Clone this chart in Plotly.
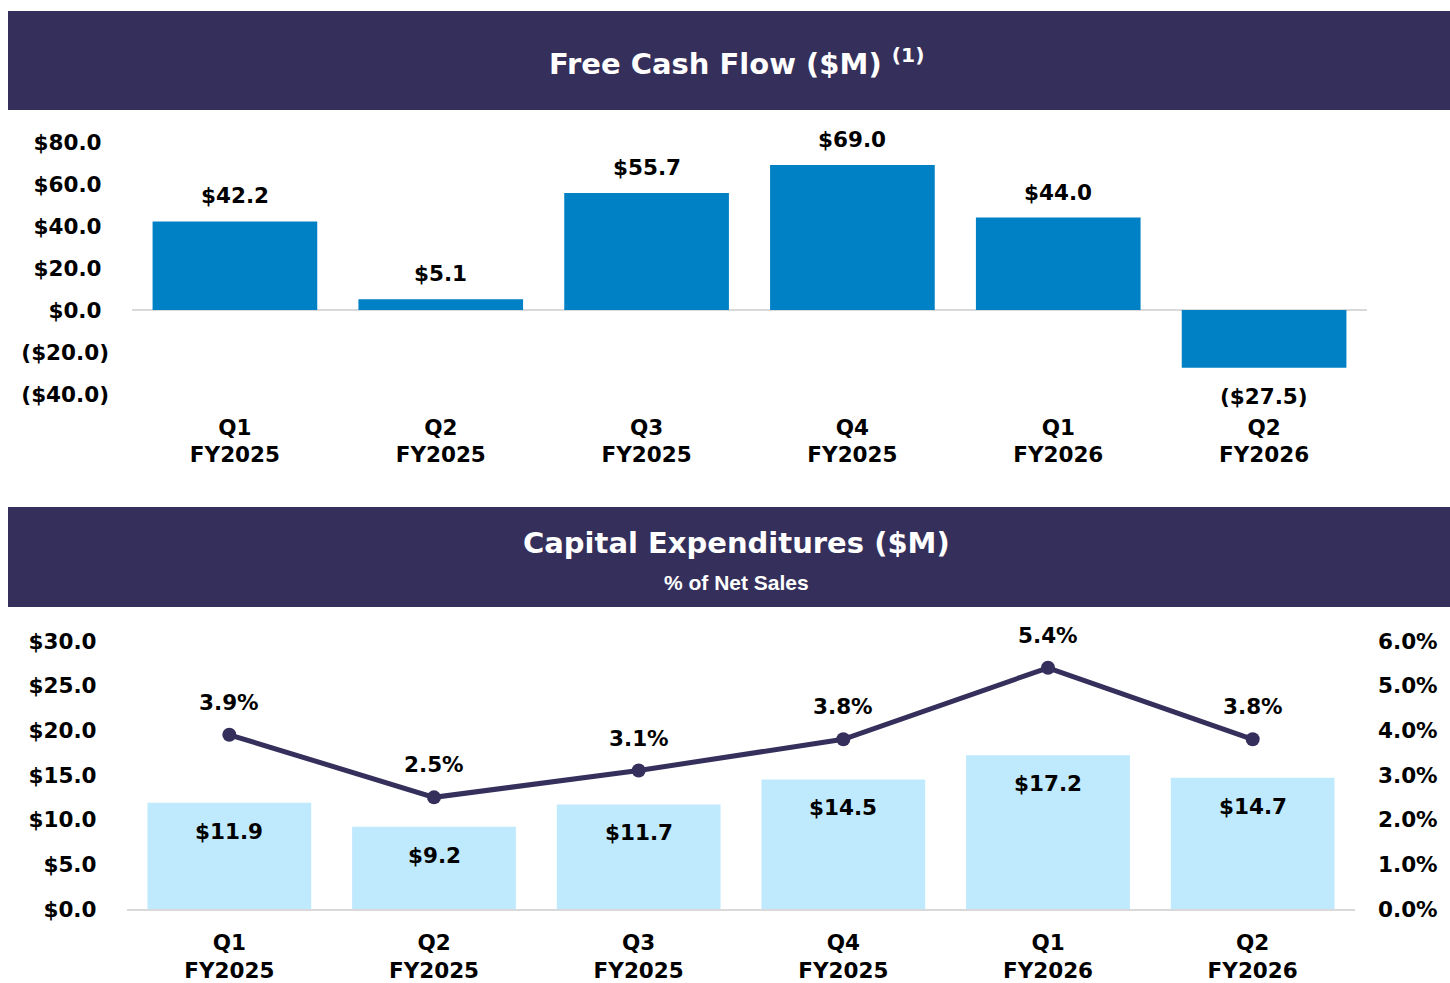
import plotly.graph_objects as go

# ---- data ----
quarters = ["Q1", "Q2", "Q3", "Q4", "Q1", "Q2"]
fiscal_years = ["FY2025", "FY2025", "FY2025", "FY2025", "FY2026", "FY2026"]
fcf_values = [42.2, 5.1, 55.7, 69.0, 44.0, -27.5]
capex_values = [11.9, 9.2, 11.7, 14.5, 17.2, 14.7]
capex_pct = [3.9, 2.5, 3.1, 3.8, 5.4, 3.8]
fcf_ticks = [-40, -20, 0, 20, 40, 60, 80]
capex_ticks = [0, 5, 10, 15, 20, 25, 30]
pct_ticks = [0, 1, 2, 3, 4, 5, 6]

W, H = 1450, 983
FONT = "DejaVu Sans"
HEADER = "#352F5B"
BLUE = "#0081C6"
LIGHT = "#BFE9FD"
GRID = "#D9D9D9"

xs = list(range(len(quarters)))
cat_text = [f"{q}<br>{fy}" for q, fy in zip(quarters, fiscal_years)]


def money(v, pad=True):
    if v < 0:
        return f"(${abs(v):.1f})"
    return f"${v:.1f}" + ("\u00a0" if pad else "")


def px_y(p):
    return 1 - p / H


def px_x(p):
    return p / W


fig = go.Figure()

fig.add_trace(go.Bar(x=xs, y=fcf_values, marker=dict(color=BLUE, line=dict(width=0)),
                     width=0.8, xaxis="x", yaxis="y", hoverinfo="skip"))
fig.add_trace(go.Bar(x=xs, y=capex_values, marker=dict(color=LIGHT, line=dict(width=0)),
                     width=0.8, xaxis="x2", yaxis="y2", hoverinfo="skip"))
fig.add_trace(go.Scatter(x=xs, y=capex_pct, mode="lines+markers",
                         line=dict(color=HEADER, width=5),
                         marker=dict(color=HEADER, size=14),
                         xaxis="x2", yaxis="y3", hoverinfo="skip"))

tickfont = dict(family=FONT, size=21.5, color="black", weight="bold")

annotations = []
# FCF labels
for x, v in zip(xs, fcf_values):
    annotations.append(dict(x=x, y=v, xref="x", yref="y", text=money(v, pad=False),
                            showarrow=False, yanchor="bottom" if v >= 0 else "top",
                            yshift=11 if v >= 0 else -14, font=tickfont))
# Capex labels inside bars
for x, v in zip(xs, capex_values):
    annotations.append(dict(x=x, y=v, xref="x2", yref="y2", text=money(v, pad=False),
                            showarrow=False, yanchor="top", yshift=-14, font=tickfont))
# pct labels
for x, p in zip(xs, capex_pct):
    annotations.append(dict(x=x, y=p, xref="x2", yref="y3", text=f"{p:.1f}%",
                            showarrow=False, yanchor="bottom", yshift=18, font=tickfont))

# headers
annotations.append(dict(x=px_x(736), y=px_y(62), xref="paper", yref="paper",
                        text="Free Cash Flow ($M) <sup>(1)</sup>", showarrow=False,
                        xanchor="center", yanchor="middle",
                        font=dict(family=FONT, size=29, color="white", weight="bold")))
annotations.append(dict(x=px_x(737), y=px_y(543), xref="paper", yref="paper",
                        text="Capital Expenditures ($M)", showarrow=False,
                        xanchor="center", yanchor="middle",
                        font=dict(family=FONT, size=29, color="white", weight="bold")))
annotations.append(dict(x=px_x(737), y=px_y(582), xref="paper", yref="paper",
                        text="% of Net Sales", showarrow=False,
                        xanchor="center", yanchor="middle",
                        font=dict(family="Liberation Sans", size=21, color="white", weight="bold")))

shapes = [
    dict(type="rect", xref="paper", yref="paper", x0=px_x(8), x1=1, y0=px_y(110), y1=px_y(11),
         fillcolor=HEADER, line=dict(width=0), layer="below"),
    dict(type="rect", xref="paper", yref="paper", x0=px_x(8), x1=1, y0=px_y(607), y1=px_y(507),
         fillcolor=HEADER, line=dict(width=0), layer="below"),
]

fig.update_layout(
    width=W, height=H,
    margin=dict(l=0, r=0, t=0, b=0, autoexpand=False),
    paper_bgcolor="white", plot_bgcolor="white",
    showlegend=False,
    bargap=0.2,
    annotations=annotations,
    shapes=shapes,
    xaxis=dict(domain=[px_x(132), px_x(1367)], range=[-0.5, 5.5], tickvals=xs, ticktext=cat_text,
               showgrid=False, zeroline=False, showline=False, ticks="", tickfont=tickfont,
               ticklabelstandoff=18, anchor="y", automargin=False),
    yaxis=dict(domain=[px_y(394), px_y(142)], range=[-40, 80], tickvals=fcf_ticks,
               ticktext=[money(v) for v in fcf_ticks], showgrid=False,
               zeroline=True, zerolinecolor=GRID, zerolinewidth=2, showline=False, ticks="",
               tickfont=tickfont, ticklabelstandoff=22, anchor="x", automargin=False),
    xaxis2=dict(domain=[px_x(127), px_x(1355)], range=[-0.5, 5.5], tickvals=xs, ticktext=cat_text,
                showgrid=False, zeroline=False, showline=True, linecolor=GRID, linewidth=2,
                ticks="", tickfont=tickfont, ticklabelstandoff=13, anchor="y2", automargin=False),
    yaxis2=dict(domain=[px_y(909), px_y(641)], range=[0, 30], tickvals=capex_ticks,
                ticktext=[money(v) for v in capex_ticks], showgrid=False, zeroline=False,
                showline=False, ticks="", tickfont=tickfont, ticklabelstandoff=22, anchor="x2",
                automargin=False),
    yaxis3=dict(range=[0, 6], tickvals=pct_ticks, ticktext=[f"{v:.1f}%" for v in pct_ticks],
                overlaying="y2", side="right", showgrid=False, zeroline=False, showline=False,
                ticks="", tickfont=tickfont, ticklabelstandoff=22, anchor="x2", automargin=False),
)

fig.write_html("out.html", config={"displayModeBar": False},
               post_script="document.body.style.margin='0';document.body.style.overflow='hidden';")
